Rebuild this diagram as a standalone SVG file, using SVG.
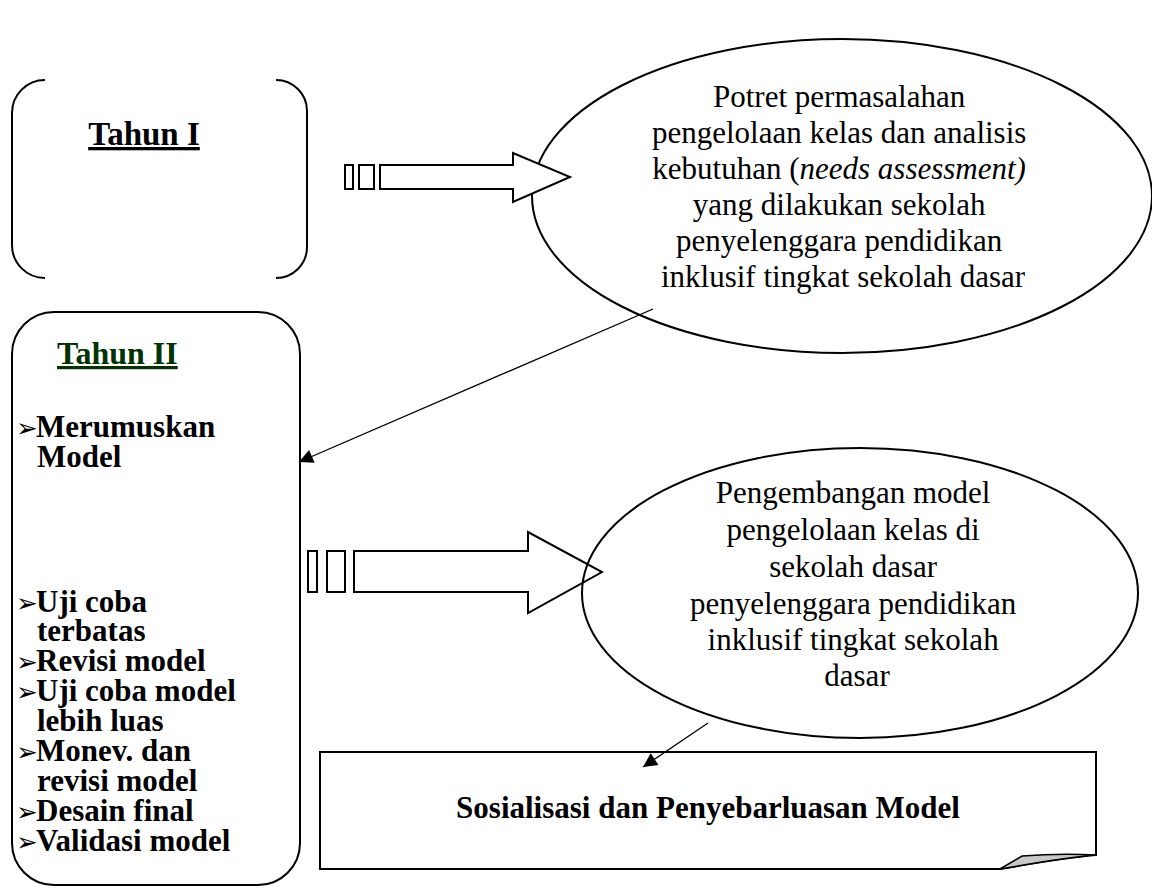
<svg xmlns="http://www.w3.org/2000/svg" width="1152" height="895" viewBox="0 0 1152 895">
<defs>
<marker id="ah" viewBox="0 0 10 10" refX="10" refY="5" markerWidth="17" markerHeight="14" markerUnits="userSpaceOnUse" orient="auto"><path d="M0,0 L10,5 L0,10 Z" fill="#000"/></marker>
<style>
.s{fill:none;stroke:#000;stroke-width:2}
.w{fill:#fff;stroke:#000;stroke-width:2}
.t{font-family:"Liberation Serif","Times New Roman",serif;font-size:31px;fill:#000}
.b{font-family:"Liberation Serif","Times New Roman",serif;font-weight:bold;font-size:31px;fill:#000}
.bu{font-family:"DejaVu Sans",sans-serif;font-weight:bold;font-size:26px}
.bl{font-family:"DejaVu Sans",sans-serif;font-weight:normal;font-size:26px}
.c{stroke:#000;stroke-width:1.3;fill:none;marker-end:url(#ah)}
</style>
</defs>
<rect width="1152" height="895" fill="#fff"/>
<g id="tahun1">
<path class="s" d="M45,80 A33,33 0 0 0 12,113 L12,245 A33,33 0 0 0 45,278"/>
<path class="s" d="M276,80 A31,31 0 0 1 307,111 L307,247 A31,31 0 0 1 276,278"/>
<text class="b" x="144" y="145" text-anchor="middle" style="font-size:33px" text-decoration="underline">Tahun I</text>
</g>
<g id="ellipse1">
<ellipse class="w" cx="842" cy="196" rx="310" ry="157"/>
<text class="t" text-anchor="middle">
<tspan x="843" y="107">Potret permasalahan</tspan>
<tspan x="843" y="143">pengelolaan kelas dan analisis</tspan>
<tspan x="843" y="179">kebutuhan (<tspan font-style="italic">needs assessment)</tspan></tspan>
<tspan x="843" y="215">yang dilakukan sekolah</tspan>
<tspan x="843" y="251">penyelenggara pendidikan</tspan>
<tspan x="843" y="287">inklusif tingkat sekolah dasar</tspan>
</text>
</g>
<g id="arrow1">
<rect class="w" x="345" y="165" width="8" height="24" stroke-width="1.5"/>
<rect class="w" x="359" y="165" width="15" height="24" stroke-width="1.5"/>
<path class="w" stroke-width="1.5" d="M380,165 H513 V153 L570,177 L513,202 V189 H380 Z"/>
</g>
<g id="arrow2">
<rect class="w" x="308" y="551" width="9" height="41" stroke-width="1.5"/>
<rect class="w" x="327" y="551" width="18" height="41" stroke-width="1.5"/>
<path class="w" stroke-width="1.5" d="M354,551 H528 V532 L602,572 L528,613 V592 H354 Z"/>
</g>
<g id="ellipse2">
<ellipse class="s" cx="860" cy="593" rx="278" ry="145"/>
<text class="t" text-anchor="middle">
<tspan x="857" y="503">Pengembangan model</tspan>
<tspan x="857" y="540">pengelolaan kelas di</tspan>
<tspan x="857" y="577">sekolah dasar</tspan>
<tspan x="857" y="614">penyelenggara pendidikan</tspan>
<tspan x="857" y="650">inklusif tingkat sekolah</tspan>
<tspan x="857" y="686">dasar</tspan>
</text>
</g>
<g id="tahun2">
<rect class="s" x="12" y="312" width="288" height="573" rx="42" ry="42"/>
<text class="b" x="57" y="364" text-decoration="underline" style="fill:#003300;font-size:32px">Tahun II</text>
<text class="b">
<tspan x="16" y="437"><tspan class="bu">➢</tspan><tspan x="36">Merumuskan</tspan></tspan>
<tspan x="37" y="467">Model</tspan>
<tspan x="16" y="612"><tspan class="bu">➢</tspan><tspan x="36">Uji coba</tspan></tspan>
<tspan x="37" y="641">terbatas</tspan>
<tspan x="16" y="671"><tspan class="bu">➢</tspan><tspan x="36">Revisi model</tspan></tspan>
<tspan x="16" y="701"><tspan class="bu">➢</tspan><tspan x="36">Uji coba model</tspan></tspan>
<tspan x="37" y="731">lebih luas</tspan>
<tspan x="16" y="761"><tspan class="bu">➢</tspan><tspan x="36">Monev. dan</tspan></tspan>
<tspan x="37" y="791">revisi model</tspan>
<tspan x="16" y="821"><tspan class="bl">➢</tspan><tspan x="36">Desain final</tspan></tspan>
<tspan x="16" y="851"><tspan class="bl">➢</tspan><tspan x="36">Validasi model</tspan></tspan>
</text>
</g>
<g id="sosialisasi">
<path class="s" d="M320,752 H1096 V855 C1070,857 1040,862 1000,869 H320 Z"/>
<path d="M1000,869 L1022,856 Q1060,853 1096,855 C1070,857 1040,862 1000,869 Z" fill="#c8c8c8" stroke="#000" stroke-width="1.5"/>
<text class="b" x="708" y="818" text-anchor="middle">Sosialisasi dan Penyebarluasan Model</text>
</g>
<g id="connectors">
<line class="c" x1="653" y1="309" x2="299" y2="462"/>
<line class="c" x1="708" y1="723" x2="643" y2="767"/>
</g>
</svg>
